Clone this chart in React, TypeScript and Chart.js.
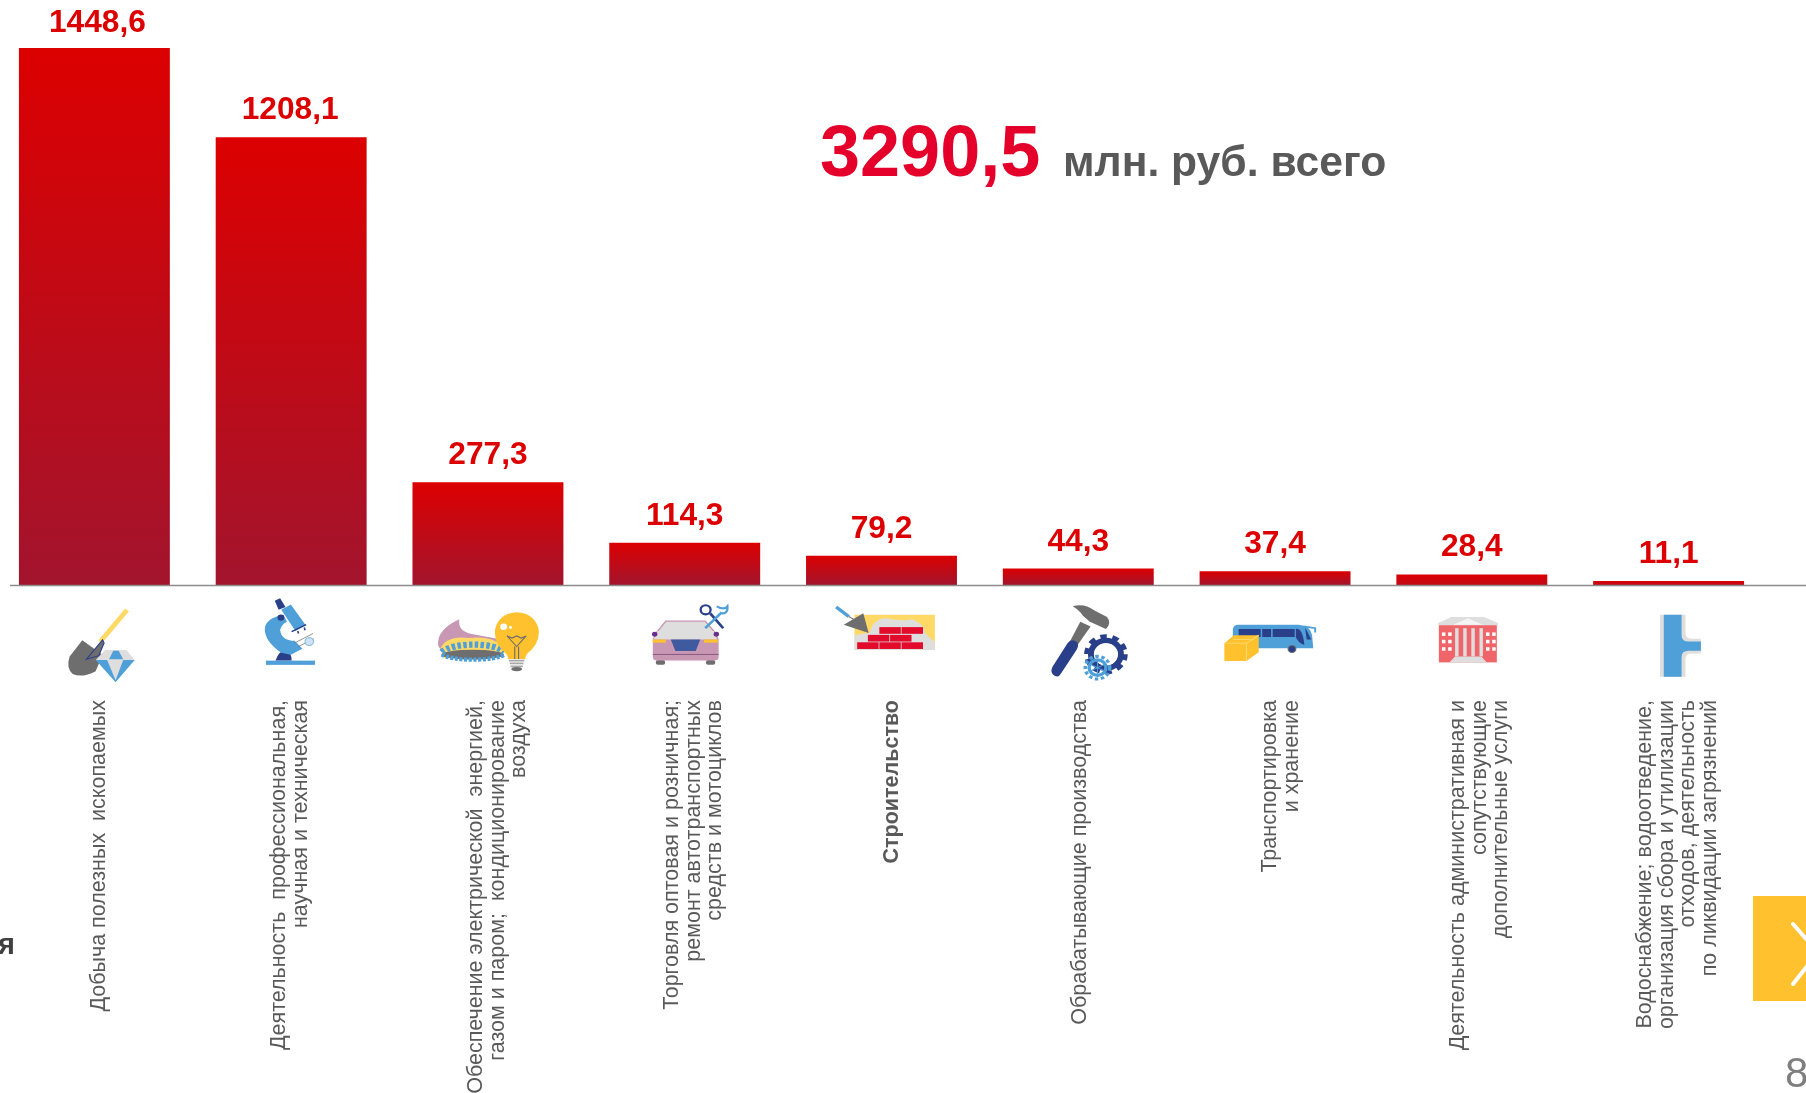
import React, { useEffect, useRef } from "react";
import { Chart, registerables } from "chart.js";

Chart.register(...registerables);

const categories: string[][] = [
  ["Добыча полезных  ископаемых"],
  ["Деятельность  профессиональная,", "научная и техническая"],
  ["Обеспечение электрической  энергией,", "газом и паром;  кондиционирование", "воздуха"],
  ["Торговля оптовая и розничная;", "ремонт автотранспортных", "средств и мотоциклов"],
  ["Строительство"],
  ["Обрабатывающие производства"],
  ["Транспортировка", "и хранение"],
  ["Деятельность административная и", "сопутствующие", "дополнительные услуги"],
  ["Водоснабжение; водоотведение,", "организация сбора и утилизации", "отходов, деятельность", "по ликвидации загрязнений"],
];
const values: number[] = [1448.6, 1208.1, 277.3, 114.3, 79.2, 44.3, 37.4, 28.4, 11.1];
const boldCategory = "Строительство";
const totalValue = "3290,5";
const totalUnit = "млн. руб. всего";
const pageNumber = "8";
const clippedLetter = "я";

const FONT = '"Liberation Sans", Arial, sans-serif';
const labelNudge = [5, -1, 10, 9, 11, 2, 6, 8, 9];
const valueNudge = [3, -1, 0, 0, 0, 0, 0, 0, 0];

const overlayPlugin = {
  id: "overlay",
  afterDraw(chart: any) {
    const { ctx, scales } = chart;
    const base = scales.y.getPixelForValue(0);
    const meta = chart.getDatasetMeta(0);
    ctx.save();
    // axis line
    ctx.strokeStyle = "#8c8c8c";
    ctx.lineWidth = 1.4;
    ctx.beginPath();
    ctx.moveTo(20, base + 0.5);
    ctx.lineTo(chart.width, base + 0.5);
    ctx.stroke();
    // value labels
    ctx.fillStyle = "#DC0000";
    ctx.font = `bold 31.7px ${FONT}`;
    ctx.textAlign = "center";
    ctx.textBaseline = "alphabetic";
    meta.data.forEach((bar: any, i: number) => {
      ctx.fillText(values[i].toFixed(1).replace(".", ","), bar.x + valueNudge[i], Math.max(32, bar.y - 18));
    });
    // category labels
    ctx.fillStyle = "#595959";
    ctx.textAlign = "right";
    ctx.textBaseline = "middle";
    const lh = 21.4;
    categories.forEach((lines, i) => {
      const cx = scales.x.getPixelForValue(i) + labelNudge[i];
      const isBold = lines[0] === boldCategory;
      ctx.font = `${isBold ? "bold " : ""}21.5px ${FONT}`;
      lines.forEach((line, j) => {
        ctx.save();
        ctx.translate(cx + (j - (lines.length - 1) / 2) * lh, base + 115);
        ctx.rotate(-Math.PI / 2);
        ctx.fillText(line, 0, 0);
        ctx.restore();
      });
    });
    ctx.restore();
  },
};

function Icons() {
  const z1 = "translate(0,540) scale(0.3827,0.3527)";
  const z2 = "translate(600,540) scale(0.3827,0.3527)";
  const z3 = "translate(1200,540) scale(0.3865,0.3527)";
  const blue = "#4F9FD9", navy = "#2A3F8A", gray = "#6E6E6E", light = "#DEDEDE", yellow = "#FFC12E", pale = "#FFD966", red = "#E30B2B";
  return (
    <svg width={1806} height={1093} style={{ position: "absolute", left: 0, top: 0, pointerEvents: "none" }}>
      <g transform={z1}>
        {/* shovel + diamond */}
        <path d="M332 198 L262 288" stroke={pale} strokeWidth={13} />
        <path d="M215 284 L268 325 L250 372 Q215 392 190 380 Q172 362 182 330 Z" fill={gray} />
        <path d="M268 283 L226 338 L258 328 L272 292 Z" fill={gray} stroke={navy} strokeWidth={3} />
        <path d="M275 312 H330 L352 340 H250 Z" fill={light} />
        <path d="M285 338 L296 314 H310 L322 338 Z" fill={blue} />
        <path d="M250 340 H352 L302 403 Z" fill={blue} />
        <path d="M280 340 H322 L302 398 Z" fill={light} />
        {/* microscope */}
        <rect x={695} y={342} width={128} height={12} fill={blue} />
        <path d="M720 342 Q728 314 745 314 Q762 316 762 342 Z" fill={navy} />
        <path d="M740 212 Q695 222 692 250 Q690 285 735 320 L760 325 L790 308 L770 286 Q735 285 732 255 Q735 240 750 232 Z" fill={blue} />
        <path d="M735 198 L760 183 L798 240 L772 258 Z" fill={blue} />
        <path d="M718 172 L732 165 L746 190 L728 198 Z" fill={navy} />
        <circle cx={734} cy={220} r={9} fill={navy} />
        <path d="M762 260 L800 240 M778 258 L780 265 M795 248 L797 256" stroke={navy} strokeWidth={4} />
        <path d="M770 292 L818 265 M780 302 L820 280" stroke={gray} strokeWidth={2} />
        <circle cx={808} cy={288} r={11} fill="#CFE3F4" stroke={blue} strokeWidth={2} />
        {/* burner + bulb */}
        <path d="M1145 300 Q1140 255 1200 225 Q1195 262 1240 268 L1300 280 L1300 320 L1160 325 Z" fill="#C897B3" />
        <path d="M1150 310 Q1165 270 1225 278 Q1280 270 1315 300 L1315 330 L1160 335 Z" fill={pale} />
        <ellipse cx={1235} cy={325} rx={82} ry={14} fill={gray} />
        <path d="M1155 318 A85 30 0 0 1 1318 318" fill="none" stroke={blue} strokeWidth={18} strokeDasharray="9 6" />
        <path d="M1155 325 A85 20 0 0 0 1318 325" fill="none" stroke={blue} strokeWidth={12} strokeDasharray="8 4" />
        <path d="M1322 322 Q1293 295 1293 262 A57 57 0 1 1 1408 262 Q1408 295 1378 322 Q1372 330 1372 338 H1328 Q1328 330 1322 322 Z" fill={yellow} />
        <path d="M1325 272 L1338 278 L1350 272 L1362 278 L1375 272 L1350 302 Z M1345 302 V338 M1355 302 V338" fill="none" stroke={gray} strokeWidth={3} />
        <rect x={1330} y={338} width={40} height={26} fill="#fff" />
        <path d="M1330 342 H1370 M1332 350 H1368 M1334 358 H1366" stroke="#A8A8A8" strokeWidth={5} />
        <ellipse cx={1350} cy={366} rx={14} ry={6} fill={gray} />
        <circle cx={1316} cy={246} r={9} fill="#fff" />
        <circle cx={1334} cy={248} r={4} fill="#fff" />
      </g>
      <g transform={z2}>
        {/* car + tools */}
        <rect x={146} y={340} width={24} height={14} rx={5} fill={gray} />
        <rect x={277} y={340} width={24} height={14} rx={5} fill={gray} />
        <path d="M148 262 L172 230 H275 L300 262 Z" fill={light} stroke="#C897B3" strokeWidth={4} />
        <path d="M138 280 L148 260 H300 L310 280 V332 Q310 342 298 342 H150 Q138 342 138 332 Z" fill="#C897B3" />
        <path d="M150 258 H298 L306 282 H140 Z" fill={light} />
        <path d="M185 282 H262 L250 315 H197 Z" fill="#3F5A9E" />
        <rect x={138} y={282} width={34} height={9} fill={yellow} />
        <rect x={272} y={282} width={36} height={9} fill={yellow} />
        <circle cx={143} cy={267} r={7} fill="#6A2E91" />
        <circle cx={304} cy={267} r={7} fill="#6A2E91" />
        <rect x={138} y={323} width={172} height={3} fill="#8E5F86" />
        <path d="M288 208 L322 250" stroke={navy} strokeWidth={7} />
        <circle cx={276} cy={198} r={13} fill="none" stroke={navy} strokeWidth={6} />
        <path d="M275 250 L318 205" stroke={blue} strokeWidth={7} />
        <path d="M305 188 Q325 200 333 188 Q335 210 318 208" fill="none" stroke={blue} strokeWidth={6} />
        {/* bricks + trowel */}
        <rect x={665} y={212} width={210} height={100} fill={pale} />
        <path d="M665 312 V270 L705 262 Q715 225 745 222 Q790 232 815 225 Q850 240 848 262 L875 290 V312 Z" fill={light} />
        {[[730, 247], [788, 247], [700, 269], [758, 269], [672, 290], [730, 290], [788, 290]].map(([x, y], i) => (
          <rect key={i} x={x} y={y} width={56} height={19} fill={red} />
        ))}
        <path d="M637 240 L688 208 L702 264 Z" fill={gray} />
        <path d="M617 190 L650 217" stroke={blue} strokeWidth={9} />
        <path d="M650 217 L668 228" stroke={gray} strokeWidth={3} />
        {/* hammer + gears */}
        <path d="M1255 232 L1282 245 L1240 310 L1222 300 Z" fill={gray} />
        <path d="M1188 385 Q1175 378 1182 360 L1222 292 Q1232 278 1247 290 Q1252 300 1245 312 L1205 378 Q1198 392 1188 385 Z" fill={navy} />
        <path d="M1235 188 Q1265 178 1292 200 L1325 218 Q1338 236 1322 252 L1280 232 L1262 215 Q1252 198 1235 188 Z" fill={gray} />
        <circle cx={1322} cy={324} r={39} fill="none" stroke={navy} strokeWidth={16} />
        <circle cx={1322} cy={324} r={51} fill="none" stroke={navy} strokeWidth={12} strokeDasharray="17 15" />
        <circle cx={1322} cy={324} r={30} fill="none" stroke="#fff" strokeWidth={3} />
        <circle cx={1300} cy={362} r={22} fill="none" stroke={blue} strokeWidth={9} />
        <circle cx={1300} cy={362} r={32} fill="none" stroke={blue} strokeWidth={9} strokeDasharray="9 7" />
        <path d="M1300 340 V384 M1280 352 L1320 372 M1280 372 L1320 352" stroke={blue} strokeWidth={3} />
      </g>
      <g transform={z3}>
        {/* bus + box */}
        <path d="M85 300 V255 Q85 240 100 240 H255 Q285 242 290 270 L293 307 H85 Z" fill={blue} />
        <path d="M100 252 H245 V275 H100 Z" fill={navy} />
        <path d="M157 252 h4 v23 h-4 Z M184 252 h4 v23 h-4 Z" fill={blue} />
        <path d="M248 252 Q266 250 270 298 Q252 290 248 275 Z" fill={navy} />
        <path d="M272 248 L288 282 L276 282 Z" fill={navy} />
        <path d="M268 245 L298 250 V262" fill="none" stroke={blue} strokeWidth={5} />
        <circle cx={238} cy={309} r={10} fill={navy} stroke={gray} strokeWidth={3} />
        <path d="M63 293 L88 270 H152 V318 L120 343 H63 Z" fill={yellow} />
        <path d="M63 293 H120 L152 270 M120 293 V343 M85 282 H140" fill="none" stroke={pale} strokeWidth={3} />
        {/* building */}
        <rect x={618} y={235} width={150} height={112} fill="#F0656A" />
        <path d="M617 235 L650 218 H735 L771 235 V242 H617 Z" fill={light} />
        <path d="M655 240 L693 222 L732 240 Z" fill="#F5F5F5" />
        {[660, 681, 702, 723].map((x) => (
          <rect key={x} x={x} y={250} width={9} height={80} fill={light} />
        ))}
        <path d="M645 347 L660 330 H728 L742 347 Z" fill={light} />
        {[628, 644, 742, 758].map((x) =>
          [262, 283, 304].map((y) => <rect key={`${x}-${y}`} x={x - 2} y={y} width={9} height={10} fill="#fff" />)
        )}
        {/* pipe */}
        <path d="M1190 212 H1256 V264 Q1256 280 1272 280 H1296 V322 H1272 Q1256 322 1256 338 V388 H1190 Z" fill={light} />
        <path d="M1200 212 H1246 V270 Q1246 288 1264 288 H1296 V314 H1264 Q1246 314 1246 332 V388 H1200 Z" fill={blue} />
      </g>
    </svg>
  );
}

export default function App() {
  const ref = useRef<HTMLCanvasElement>(null);

  useEffect(() => {
    const chart = new Chart(ref.current!, {
      type: "bar",
      data: {
        labels: categories.map((c) => c.join(" ")),
        datasets: [
          {
            data: values,
            barPercentage: 0.767,
            categoryPercentage: 1,
            borderWidth: 0,
            backgroundColor: (c: any) => {
              const { chart: ch, dataIndex } = c;
              const y = ch.scales?.y;
              if (!y || dataIndex === undefined) return "#DC0000";
              const top = y.getPixelForValue(values[dataIndex]);
              const bottom = y.getPixelForValue(0);
              if (!Number.isFinite(top) || !Number.isFinite(bottom)) return "#DC0000";
              const full = (bottom - top) / (bottom - y.getPixelForValue(values[0]));
              const g = ch.ctx.createLinearGradient(0, top, 0, bottom);
              g.addColorStop(0, "#DC0000");
              g.addColorStop(1, full > 0.02 ? "#A2142D" : "#C00A18");
              return g;
            },
          },
        ],
      },
      options: {
        responsive: false,
        animation: false,
        layout: { padding: { left: 6, right: 39, top: 0, bottom: 508 } },
        plugins: { legend: { display: false }, tooltip: { enabled: false } },
        scales: {
          x: { display: false, type: "category" },
          y: { display: false, min: 0, max: 1578 },
        },
      },
      plugins: [overlayPlugin],
    } as any);
    return () => chart.destroy();
  }, []);

  return (
    <div style={{ position: "absolute", left: 0, top: 0, width: 1806, height: 1093, overflow: "hidden", background: "#fff", fontFamily: FONT }}>
      <canvas ref={ref} width={1816} height={1093} style={{ position: "absolute", left: -10, top: 0, width: 1816, height: 1093 }} />
      <Icons />
      <div style={{ position: "absolute", left: 820, top: 110, fontSize: 72, lineHeight: "83px", fontWeight: "bold", color: "#E4002B" }}>{totalValue}</div>
      <div style={{ position: "absolute", left: 1063, top: 137, fontSize: 42.67, lineHeight: "49px", fontWeight: "bold", color: "#595959" }}>{totalUnit}</div>
      <div style={{ position: "absolute", left: -2, top: 927, fontSize: 29, lineHeight: "34px", fontWeight: "bold", color: "#404040" }}>{clippedLetter}</div>
      <div style={{ position: "absolute", left: 1753, top: 896, width: 53, height: 105, background: "#FFC12E" }} />
      <svg width={60} height={110} style={{ position: "absolute", left: 1753, top: 896 }}>
        <path d="M40 28 L70 62 M70 50 L40 88" stroke="#fff" strokeWidth={4} strokeLinecap="round" fill="none" />
      </svg>
      <div style={{ position: "absolute", left: 1785, top: 1049, fontSize: 42, lineHeight: "48px", color: "#7F7F7F" }}>{pageNumber}</div>
    </div>
  );
}
